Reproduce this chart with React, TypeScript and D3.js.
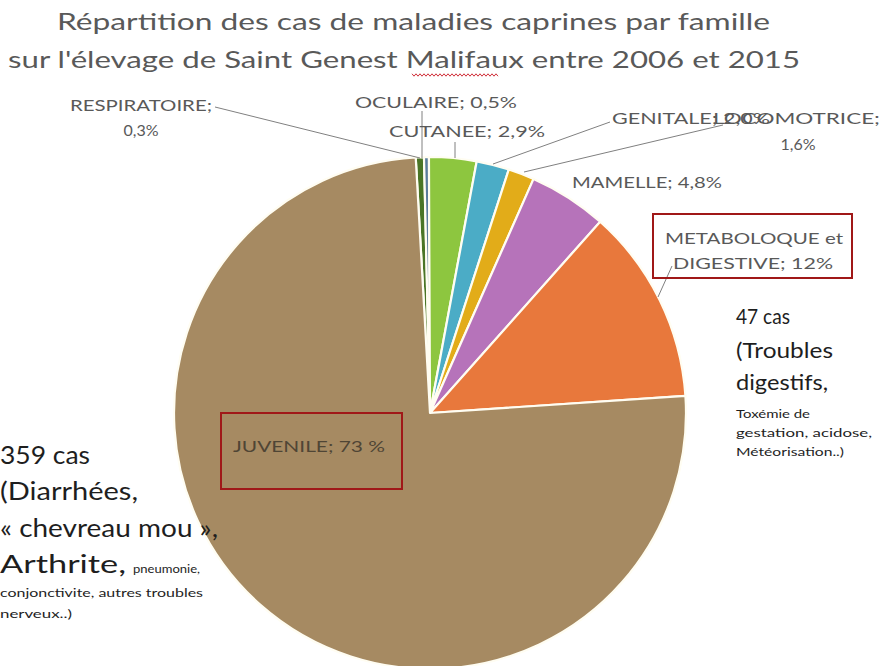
import React from "react";
import * as d3 from "d3";

const categories = ["OCULAIRE", "RESPIRATOIRE", "CUTANEE", "GENITALE", "LOCOMOTRICE", "MAMELLE", "METABOLOQUE et DIGESTIVE", "JUVENILE"];
const values = [0.5, 0.3, 2.9, 2.0, 1.6, 4.8, 12, 73];
const colors = ["#4A7526", "#5A7C9C", "#8DC63F", "#4BACC6", "#E2AC19", "#B673BA", "#E8783C", "#A68A62"];
const titleLines = [
  "Répartition des cas de maladies caprines par famille",
  "sur l'élevage de Saint Genest Malifaux entre 2006 et 2015",
];
const rightNote = ["47 cas", "(Troubles", "digestifs,"];
const rightNoteSmall = ["Toxémie de", "gestation, acidose,", "Météorisation..)"];
const leftNote = ["359 cas", "(Diarrhées,", "« chevreau mou »,"];

const W = 883;
const H = 666;
const cx = 430;
const cy = 413;
const R = 256;
const FONT = "Lato, 'Noto Sans', sans-serif";
const GREY = "#595959";

const pct = (v: number) => `${v.toFixed(1).replace(".", ",")}%`;

export default function App() {
  const start = (-3.2 * Math.PI) / 180;
  const pie = d3
    .pie<number>()
    .sort(null)
    .startAngle(start)
    .endAngle(start + 2 * Math.PI)
    .value((d) => d);
  const arcs = pie(values);
  const arc = d3.arc<d3.PieArcDatum<number>>().innerRadius(0).outerRadius(R);

  // wavy underline for "Malifaux"
  const wave: [number, number][] = [];
  for (let x = 412; x <= 498; x += 2) wave.push([x, 75 + ((x / 2) % 2 === 0 ? -1.2 : 1.2)]);
  const waveLine = d3.line()(wave) || "";

  return (
    <svg
      width={W}
      height={H}
      style={{ position: "absolute", left: 0, top: 0, background: "#fff" }}
      fontFamily={FONT}
    >
      <rect width={W} height={H} fill="#fff" />
      {/* title */}
      <text x={57} y={30} fontSize={24} fill={GREY} textLength={713} lengthAdjust="spacingAndGlyphs">
        {titleLines[0]}
      </text>
      <text x={8} y={68} fontSize={24} fill={GREY} textLength={792} lengthAdjust="spacingAndGlyphs">
        {titleLines[1]}
      </text>
      <path d={waveLine} fill="none" stroke="#D0303A" strokeWidth={1} />

      {/* pie */}
      <g transform={`translate(${cx},${cy})`}>
        {arcs.map((a, i) => (
          <path key={categories[i]} d={arc(a) || ""} fill={colors[i]} stroke="#FFFDF2" strokeWidth={2.2} strokeLinejoin="round" />
        ))}
      </g>

      {/* leader lines */}
      <g stroke="#808080" strokeWidth={1} fill="none">
        <line x1={215} y1={107} x2={420} y2={158} />
        <line x1={422} y1={111} x2={422} y2={158} />
        <line x1={455} y1={142} x2={455} y2={158} />
        <line x1={610} y1={122} x2={493} y2={164} />
        <line x1={723} y1={125} x2={524} y2={172} />
        <line x1={672} y1={266} x2={658} y2={297} />
      </g>

      {/* slice labels */}
      <g fontSize={16} fill={GREY}>
        <text x={70} y={111} textLength={142} lengthAdjust="spacingAndGlyphs">{`${categories[1]};`}</text>
        <text x={141} y={136} textAnchor="middle">{pct(values[1])}</text>
        <text x={355} y={108} textLength={162} lengthAdjust="spacingAndGlyphs">{`${categories[0]}; ${pct(values[0])}`}</text>
        <text x={389} y={137} textLength={156} lengthAdjust="spacingAndGlyphs">{`${categories[2]}; ${pct(values[2])}`}</text>
        <text x={612} y={124} textLength={158} lengthAdjust="spacingAndGlyphs">{`${categories[3]}; ${pct(values[3])}`}</text>
        <text x={713} y={124} textLength={167} lengthAdjust="spacingAndGlyphs">{`${categories[4]};`}</text>
        <text x={798} y={150} textAnchor="middle">{pct(values[4])}</text>
        <text x={572} y={188} textLength={150} lengthAdjust="spacingAndGlyphs">{`${categories[5]}; ${pct(values[5])}`}</text>
        <text x={665} y={244} textLength={178} lengthAdjust="spacingAndGlyphs">METABOLOQUE et</text>
        <text x={673} y={269} textLength={160} lengthAdjust="spacingAndGlyphs">{`DIGESTIVE; ${values[6]}%`}</text>
        <text x={233} y={452} textLength={152} lengthAdjust="spacingAndGlyphs" fill="#4F4535">{`${categories[7]}; ${values[7]} %`}</text>
      </g>

      {/* boxes */}
      <rect x={653} y={214} width={199} height={64} fill="none" stroke="#A01818" strokeWidth={2} />
      <rect x={221} y={413} width={181} height={76} fill="none" stroke="#A01818" strokeWidth={2} />

      {/* right annotation */}
      <g fill="#1E1E1E">
        <text x={736} y={324} fontSize={21} textLength={54} lengthAdjust="spacingAndGlyphs">{rightNote[0]}</text>
        <text x={736} y={358} fontSize={21} textLength={97} lengthAdjust="spacingAndGlyphs">{rightNote[1]}</text>
        <text x={736} y={390} fontSize={21} textLength={92} lengthAdjust="spacingAndGlyphs">{rightNote[2]}</text>
        <text x={736} y={418} fontSize={12} textLength={74} lengthAdjust="spacingAndGlyphs">{rightNoteSmall[0]}</text>
        <text x={736} y={437} fontSize={12} textLength={136} lengthAdjust="spacingAndGlyphs">{rightNoteSmall[1]}</text>
        <text x={736} y={456} fontSize={12} textLength={108} lengthAdjust="spacingAndGlyphs">{rightNoteSmall[2]}</text>
      </g>

      {/* left annotation */}
      <g fill="#1E1E1E">
        <text x={0} y={464} fontSize={25} textLength={90} lengthAdjust="spacingAndGlyphs">{leftNote[0]}</text>
        <text x={0} y={500} fontSize={25} textLength={138} lengthAdjust="spacingAndGlyphs">{leftNote[1]}</text>
        <text x={0} y={537} fontSize={25} textLength={218} lengthAdjust="spacingAndGlyphs">{leftNote[2]}</text>
        <text x={0} y={573} fontSize={25} textLength={126} lengthAdjust="spacingAndGlyphs">Arthrite,</text>
        <text x={133} y={573} fontSize={11} textLength={67} lengthAdjust="spacingAndGlyphs">pneumonie,</text>
        <text x={0} y={597} fontSize={11} textLength={203} lengthAdjust="spacingAndGlyphs">conjonctivite, autres troubles</text>
        <text x={0} y={618} fontSize={11} textLength={72} lengthAdjust="spacingAndGlyphs">nerveux..)</text>
      </g>
    </svg>
  );
}
